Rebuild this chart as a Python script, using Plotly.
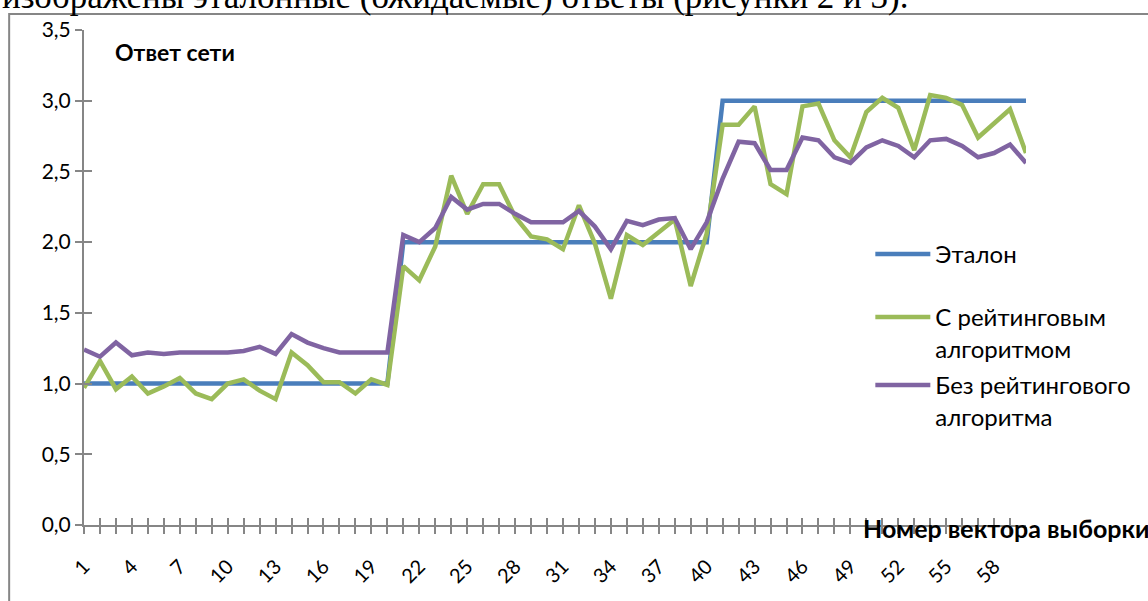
import plotly.graph_objects as go

x_vals = list(range(1, 61))
tick_labels = [str(i) if (i - 1) % 3 == 0 else "" for i in x_vals]

etalon = [1.0] * 20 + [2.0] * 20 + [3.0] * 20

with_rating = [
    0.97, 1.16, 0.96, 1.05, 0.93, 0.98, 1.04, 0.93, 0.89, 1.00,
    1.03, 0.95, 0.89, 1.22, 1.13, 1.01, 1.01, 0.93, 1.03, 0.99,
    1.83, 1.73, 1.97, 2.47, 2.20, 2.41, 2.41, 2.18, 2.04, 2.02,
    1.95, 2.26, 1.99, 1.60, 2.05, 1.98, 2.07, 2.16, 1.69, 2.06,
    2.83, 2.83, 2.96, 2.41, 2.34, 2.96, 2.98, 2.72, 2.60, 2.92,
    3.02, 2.95, 2.65, 3.04, 3.02, 2.97, 2.74, 2.84, 2.94, 2.63,
]

without_rating = [
    1.24, 1.19, 1.29, 1.20, 1.22, 1.21, 1.22, 1.22, 1.22, 1.22,
    1.23, 1.26, 1.21, 1.35, 1.29, 1.25, 1.22, 1.22, 1.22, 1.22,
    2.05, 2.00, 2.10, 2.32, 2.23, 2.27, 2.27, 2.20, 2.14, 2.14,
    2.14, 2.22, 2.11, 1.95, 2.15, 2.12, 2.16, 2.17, 1.95, 2.14,
    2.45, 2.71, 2.70, 2.51, 2.51, 2.74, 2.72, 2.60, 2.56, 2.67,
    2.72, 2.68, 2.60, 2.72, 2.73, 2.68, 2.60, 2.63, 2.69, 2.56,
]

series_names = ["Эталон", "С рейтинговым<br>алгоритмом", "Без рейтингового<br>алгоритма"]
series_colors = ["#4A7EBB", "#9BBB59", "#8064A2"]
legend_ids = ["legend", "legend2", "legend3"]
legend_text_y = [254, 317, 385]  # pixel centre of the first legend text line

FONT = "Lato"
GRAY = "#868686"

fig = go.Figure()
for name, vals, col, lg in zip(series_names, [etalon, with_rating, without_rating], series_colors, legend_ids):
    fig.add_trace(go.Scatter(
        x=x_vals, y=vals, name=name, mode="lines", legend=lg,
        line=dict(color=col, width=4.5, shape="linear"),
    ))

# helper trace for the overlaying axes (inside tick halves)
fig.add_trace(go.Scatter(x=[None], y=[None], xaxis="x2", yaxis="y2", showlegend=False, hoverinfo="skip"))

def legend_box(text_y):
    return dict(
        x=(872 - 84) / 944, y=(525 - (text_y - 22)) / 495, xanchor="left", yanchor="top",
        bgcolor="rgba(0,0,0,0)", borderwidth=0,
        font=dict(family=FONT, size=24, color="black"),
        itemwidth=55, valign="top",
    )

fig.update_layout(
    width=1148, height=601,
    margin=dict(l=84, r=120, t=30, b=76),
    paper_bgcolor="white", plot_bgcolor="white",
    separators=", ",
    font=dict(family=FONT, size=21, color="black"),
    showlegend=True,
    legend=legend_box(legend_text_y[0]),
    legend2=legend_box(legend_text_y[1]),
    legend3=legend_box(legend_text_y[2]),
    xaxis=dict(
        range=[1, 60], tickmode="array", tickvals=x_vals, ticktext=tick_labels,
        tickangle=-45, ticks="outside", ticklen=7, tickcolor=GRAY, tickwidth=1.5,
        ticklabelstandoff=13,
        showline=True, linecolor=GRAY, linewidth=2, showgrid=False, zeroline=False,
        tickfont=dict(family=FONT, size=20, color="black"),
    ),
    yaxis=dict(
        range=[0, 3.5], dtick=0.5, tick0=0, tickformat=".1f",
        ticks="outside", ticklen=7, tickcolor=GRAY, tickwidth=1.5,
        showline=True, linecolor=GRAY, linewidth=2, showgrid=False, zeroline=False,
        tickfont=dict(family=FONT, size=21, color="black"),
    ),
    xaxis2=dict(
        overlaying="x", range=[1, 60], tickmode="array", tickvals=x_vals,
        ticktext=[""] * 60, ticks="inside", ticklen=7, tickcolor=GRAY, tickwidth=1.5,
        showline=False, showgrid=False, zeroline=False, side="bottom", anchor="y",
    ),
    yaxis2=dict(
        overlaying="y", range=[0, 3.5], dtick=0.5, tick0=0, showticklabels=False,
        ticks="inside", ticklen=8, tickcolor=GRAY, tickwidth=1.5,
        showline=False, showgrid=False, zeroline=False, side="left", anchor="x",
    ),
)

# outer chart frame
fig.add_shape(type="rect", xref="paper", yref="paper",
              x0=(9 - 84) / 944, x1=(1160 - 84) / 944,
              y0=(525 - 620) / 495, y1=(525 - 14) / 495,
              line=dict(color=GRAY, width=2), fillcolor="rgba(0,0,0,0)", layer="below")

# text of the page above the chart (partially cut)
fig.add_annotation(text="изображены эталонные (ожидаемые) ответы (рисунки 2 и 3).",
                   xref="paper", yref="paper", x=(0 - 84) / 944, y=(525 + 4) / 495,
                   xanchor="left", yanchor="middle", showarrow=False,
                   font=dict(family="Liberation Serif", size=35, color="black"))

fig.add_annotation(text="<b>Ответ сети</b>", xref="paper", yref="paper",
                   x=(113 - 84) / 944, y=(525 - 52) / 495, xanchor="left", yanchor="middle",
                   showarrow=False, font=dict(family=FONT, size=23, color="black"))

fig.add_annotation(text="<b>Номер вектора выборки</b>", xref="paper", yref="paper",
                   x=(863 - 84) / 944, y=(525 - 528) / 495, xanchor="left", yanchor="middle",
                   showarrow=False, font=dict(family=FONT, size=25, color="black"))

fig.write_html("out.html")
